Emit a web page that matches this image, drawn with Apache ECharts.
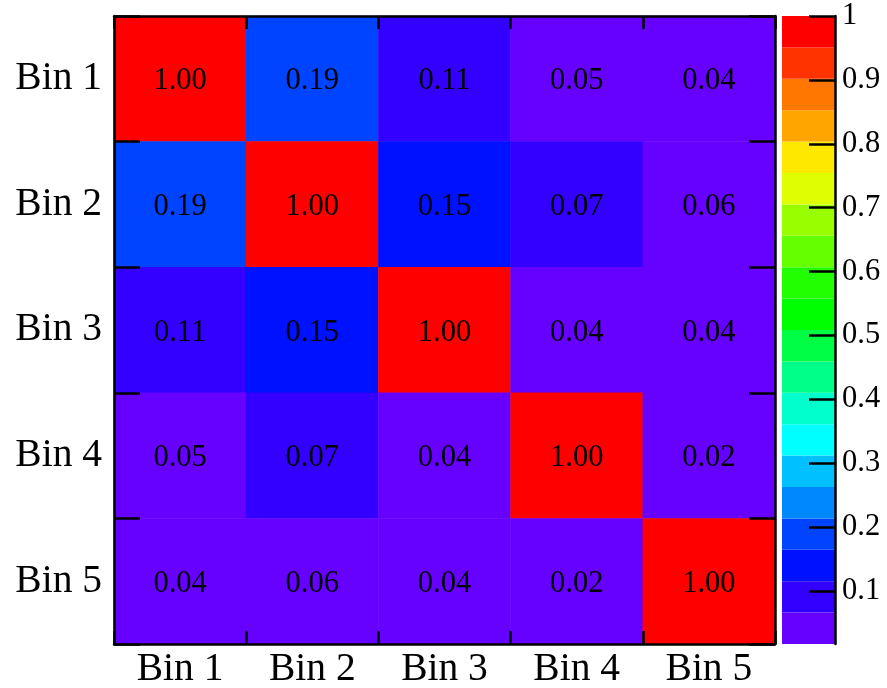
<!DOCTYPE html>
<html>
<head>
<meta charset="utf-8">
<script src="https://cdn.jsdelivr.net/npm/echarts@6/dist/echarts.min.js"></script>
<style>
html,body{margin:0;padding:0;background:#fff;}
#chart{width:887px;height:688px;}
</style>
</head>
<body>
<div id="chart"></div>
<script>
// ---- data ----
const xCategories = ['Bin 1', 'Bin 2', 'Bin 3', 'Bin 4', 'Bin 5'];
const yCategories = ['Bin 1', 'Bin 2', 'Bin 3', 'Bin 4', 'Bin 5'];
const row1 = [1.00, 0.19, 0.11, 0.05, 0.04];
const row2 = [0.19, 1.00, 0.15, 0.07, 0.06];
const row3 = [0.11, 0.15, 1.00, 0.04, 0.04];
const row4 = [0.05, 0.07, 0.04, 1.00, 0.02];
const row5 = [0.04, 0.06, 0.04, 0.02, 1.00];
const rows = [row1, row2, row3, row4, row5];
const zMin = 0.017;
const zMax = 1.0;
const colorbarTicks = [0.1, 0.2, 0.3, 0.4, 0.5, 0.6, 0.7, 0.8, 0.9, 1.0];
const paletteColors = ['#6600ff', '#3300ff', '#0011ff', '#0044ff', '#0088ff', '#00c0ff', '#00ffff', '#00ffcc', '#00ff88', '#00ff44',
  '#00ff00', '#22ff00', '#66ff00', '#99ff00', '#ddff00', '#ffe800', '#ffa500', '#ff7700', '#ff3300', '#ff0000'];

// ---- build ----
const nLev = paletteColors.length;
const levels = [];
for (let i = 0; i <= nLev; i++) levels.push(zMin + (zMax - zMin) * i / nLev);

const heatData = [];
rows.forEach((r, yi) => r.forEach((v, xi) => heatData.push([xi, yi, v])));

const pieces = paletteColors.map((c, i) => {
  const p = { gte: levels[i], color: c };
  if (i === nLev - 1) p.lte = levels[i + 1] + 1e-9; else p.lt = levels[i + 1];
  return p;
});

const FONT = 'Liberation Serif';
const black = '#000';

const cbSeries = paletteColors.map((c, i) => ({
  type: 'bar',
  xAxisIndex: 2,
  yAxisIndex: 2,
  stack: 'cb',
  barWidth: '100%',
  silent: true,
  clip: true,
  itemStyle: { color: c },
  data: [i === 0 ? levels[1] : levels[i + 1] - levels[i]]
}));

const option = {
  animation: false,
  backgroundColor: '#fff',
  grid: [
    { left: 114, right: 112, top: 16, bottom: 44, outerBoundsMode: 'none', containLabel: false },
    { left: 782, right: 52, top: 16, bottom: 44, outerBoundsMode: 'none', containLabel: false }
  ],
  xAxis: [
    {
      type: 'category', gridIndex: 0, position: 'bottom', data: xCategories,
      axisLine: { lineStyle: { color: black, width: 2.5 } },
      axisTick: { show: true, inside: true, length: 13, lineStyle: { color: black, width: 2.5 } },
      axisLabel: { color: black, fontFamily: FONT, fontSize: 39.5, margin: 6 },
      splitLine: { show: false }, z: 10
    },
    {
      type: 'category', gridIndex: 0, position: 'top', data: xCategories,
      axisLine: { lineStyle: { color: black, width: 2.5 } },
      axisTick: { show: true, inside: true, length: 13, lineStyle: { color: black, width: 2.5 } },
      axisLabel: { show: false }, splitLine: { show: false }, z: 10
    },
    { type: 'category', gridIndex: 1, data: ['cb'], show: false }
  ],
  yAxis: [
    {
      type: 'category', gridIndex: 0, position: 'left', inverse: true, data: yCategories,
      axisLine: { lineStyle: { color: black, width: 2.5 } },
      axisTick: { show: true, inside: true, length: 26, lineStyle: { color: black, width: 2.5 } },
      axisLabel: { color: black, fontFamily: FONT, fontSize: 39.5, margin: 12, padding: [8, 0, 0, 0] },
      splitLine: { show: false }, z: 10
    },
    {
      type: 'category', gridIndex: 0, position: 'right', inverse: true, data: yCategories,
      axisLine: { lineStyle: { color: black, width: 2.5 } },
      axisTick: { show: true, inside: true, length: 26, lineStyle: { color: black, width: 2.5 } },
      axisLabel: { show: false }, splitLine: { show: false }, z: 10
    },
    {
      type: 'value', gridIndex: 1, position: 'right', min: zMin, max: zMax,
      axisLine: { show: true, lineStyle: { color: black, width: 2.5 } },
      axisTick: { show: true, inside: true, length: 26, customValues: colorbarTicks, lineStyle: { color: black, width: 2.5 } },
      axisLabel: {
        color: black, fontFamily: FONT, fontSize: 30.5, margin: 7, customValues: colorbarTicks,
        padding: [3, 0, 0, 0],
        formatter: v => (Math.abs(v - 1) < 1e-9 ? '1' : v.toFixed(1))
      },
      splitLine: { show: false }, z: 10
    }
  ],
  visualMap: {
    type: 'piecewise', show: false, seriesIndex: 0, dimension: 2, pieces: pieces
  },
  series: [
    {
      type: 'heatmap', xAxisIndex: 0, yAxisIndex: 0, data: heatData,
      label: {
        show: true, color: black, fontFamily: FONT, fontSize: 30.5, offset: [0, 2.5],
        formatter: p => p.value[2].toFixed(2)
      },
      emphasis: { disabled: true }
    }
  ].concat(cbSeries)
};

const chart = echarts.init(document.getElementById('chart'), null, { renderer: 'canvas' });
chart.setOption(option);
</script>
</body>
</html>
